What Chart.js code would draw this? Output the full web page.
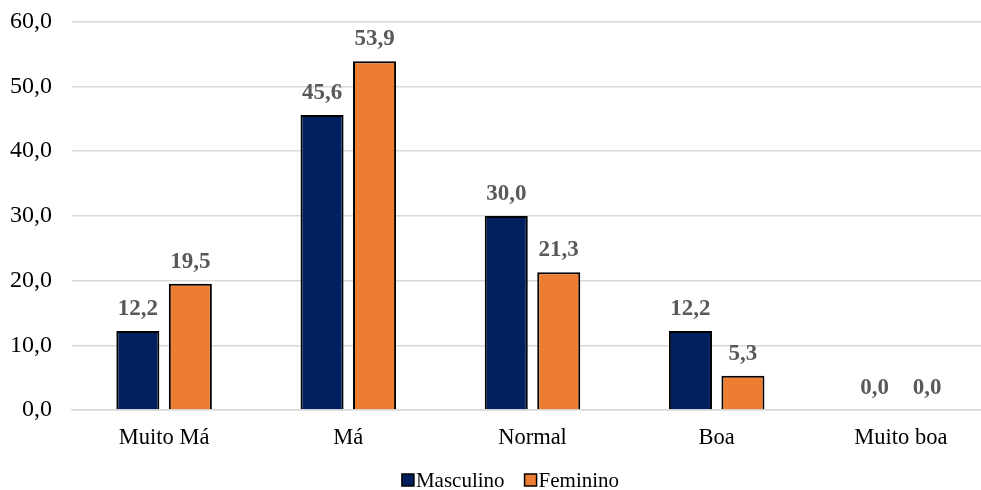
<!DOCTYPE html>
<html>
<head>
<meta charset="utf-8">
<script src="https://cdn.jsdelivr.net/npm/chart.js@4/dist/chart.umd.min.js"></script>
<style>
  html, body { margin: 0; padding: 0; background: #ffffff; overflow: hidden; }
  #wrap { width: 981px; height: 490px; overflow: hidden; }
  #c { display: block; }
</style>
</head>
<body>
<div id="wrap"><canvas id="c" width="993" height="490"></canvas></div>
<script>
const categories = ['Muito Má', 'Má', 'Normal', 'Boa', 'Muito boa'];
const masculino = [12.2, 45.6, 30.0, 12.2, 0.0];
const feminino = [19.5, 53.9, 21.3, 5.3, 0.0];
const yTicks = [0, 10, 20, 30, 40, 50, 60];

const fmt = v => v.toFixed(1).replace('.', ',');
const serif = "'Liberation Serif', 'Times New Roman', serif";

// Writes each bar's value just above it
const valueLabels = {
  id: 'valueLabels',
  afterDatasetsDraw(chart) {
    const ctx = chart.ctx;
    ctx.save();
    ctx.font = "bold 23px " + serif;
    ctx.fillStyle = '#595959';
    ctx.textAlign = 'center';
    ctx.textBaseline = 'middle';
    chart.data.datasets.forEach((ds, i) => {
      chart.getDatasetMeta(i).data.forEach((bar, j) => {
        ctx.fillText(fmt(ds.data[j]), bar.x, bar.y - 22);
      });
    });
    ctx.restore();
  }
};

// Compact legend under the axis: small framed square, text right beside it
const compactLegend = {
  id: 'compactLegend',
  afterDraw(chart) {
    const ctx = chart.ctx;
    const box = 12, gapText = 2, gapItem = 20, cy = 480;
    ctx.save();
    ctx.font = "21px " + serif;
    ctx.textBaseline = 'middle';
    ctx.textAlign = 'left';
    const items = chart.data.datasets.map(ds => ({
      label: ds.label, color: ds.backgroundColor, w: ctx.measureText(ds.label).width
    }));
    const total = items.reduce((s, it) => s + box + gapText + it.w, 0) + gapItem * (items.length - 1);
    let x = (chart.chartArea.left + chart.chartArea.right) / 2 - total / 2 - 22;
    items.forEach(it => {
      ctx.fillStyle = it.color;
      ctx.fillRect(x, cy - box / 2, box, box);
      ctx.strokeStyle = '#000000';
      ctx.lineWidth = 1.5;
      ctx.strokeRect(x, cy - box / 2, box, box);
      ctx.fillStyle = '#000000';
      ctx.fillText(it.label, x + box + gapText, cy + 1);
      x += box + gapText + it.w + gapItem;
    });
    ctx.restore();
  }
};

const chart = new Chart(document.getElementById('c'), {
  type: 'bar',
  data: {
    labels: categories,
    datasets: [
      { label: 'Masculino', data: masculino, backgroundColor: '#002060', borderColor: '#000000', borderWidth: 2 },
      { label: 'Feminino', data: feminino, backgroundColor: '#ED7D31', borderColor: '#000000', borderWidth: 2 }
    ]
  },
  options: {
    responsive: false,
    animation: false,
    devicePixelRatio: 1,
    layout: { padding: { left: -10, right: 0, top: 0, bottom: 23 } },
    datasets: { bar: { barPercentage: 0.82, categoryPercentage: 0.57 } },
    plugins: {
      legend: { display: false },
      tooltip: { enabled: false }
    },
    scales: {
      x: {
        grid: { display: false, drawTicks: false },
        border: { color: '#d9d9d9', width: 1.5 },
        ticks: { font: { family: serif, size: 22.5 }, color: '#000000', padding: 15 }
      },
      y: {
        min: 0, max: 60,
        afterBuildTicks(axis) { axis.ticks = yTicks.map(v => ({ value: v })); },
        grid: { color: '#d9d9d9', lineWidth: 1.5, drawTicks: false },
        border: { display: false },
        ticks: { font: { family: serif, size: 24, lineHeight: 0.15 }, color: '#000000', padding: 20, callback: v => fmt(v) }
      }
    }
  },
  plugins: [valueLabels, compactLegend]
});
</script>
</body>
</html>
